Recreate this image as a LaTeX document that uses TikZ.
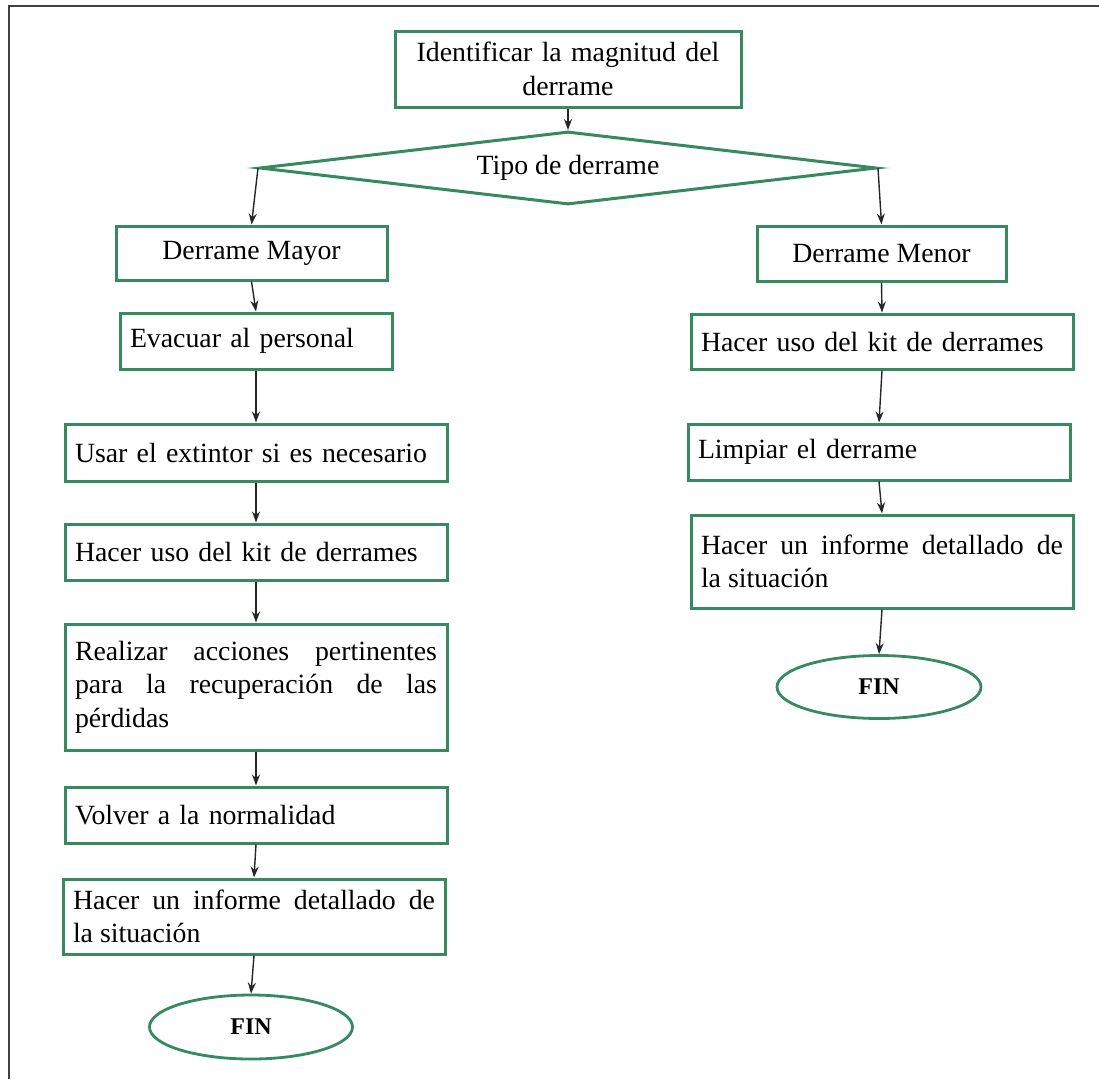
\documentclass[tikz,border=0pt]{standalone}
\usepackage{fontspec}
\setmainfont{Liberation Serif}
\usetikzlibrary{shapes.geometric,arrows.meta}
\definecolor{verde}{RGB}{55,138,95}
\hyphenpenalty=10000
\exhyphenpenalty=10000

\begin{document}
\begin{tikzpicture}[x=1pt, y=-1pt, every node/.style={font=\fontsize{27.8}{33.5}\selectfont},
	caja/.style={draw=verde, line width=3pt, inner xsep=10pt, inner ysep=0pt, align=left},
	fin/.style={draw=verde, line width=2.8pt, ellipse, inner sep=0pt, font=\fontsize{24}{28}\selectfont\bfseries},
	flecha/.style={-{Stealth[length=11pt,width=8pt]}, line width=1.4pt, black!85}]
	\useasboundingbox (0,0) rectangle (1099,1079);
	\draw[line width=2pt, black!75] (8.5,1079) -- (8.5,6) -- (1099,6);
	\node[caja, align=center, inner xsep=6pt, text width=334pt, minimum width=346pt, minimum height=76pt] (ident) at (568,69) {Identificar la magnitud del\\derrame};
	\node[draw=verde, line width=3pt, diamond, aspect=8, inner sep=0pt, minimum width=617pt, minimum height=73pt] (tipo) at (568,168) {Tipo de derrame};
	\node[caja, align=center, minimum width=271pt, minimum height=54pt] (mayor) at (251.5,253) {Derrame Mayor};
	\node[caja, align=center, minimum width=249pt, minimum height=55pt] (menor) at (881.5,253.5) {Derrame Menor};
	% rama izquierda
	\node[caja, text width=252pt, minimum height=56pt] (evac) at (256,341) {Evacuar al personal};
	\node[caja, text width=362pt, minimum height=57pt] (extin) at (256,452.5) {Usar el extintor si es necesario};
	\node[caja, text width=362pt, minimum height=56pt] (kitL) at (256,552) {Hacer uso del kit de derrames};
	\node[caja, align=justify, text width=362pt, minimum height=126pt] (recup) at (256,687) {\tolerance=10000 Realizar acciones pertinentes para la recuperación de las pérdidas};
	\node[caja, text width=362pt, minimum height=56pt] (normal) at (256,815) {Volver a la normalidad};
	\node[caja, align=justify, text width=362pt, minimum height=75pt] (infL) at (254,916.5) {Hacer un informe detallado de\linebreak la situación};
	\node[fin, minimum width=203pt, minimum height=64pt] (finL) at (251,1027) {FIN};
	% rama derecha
	\node[caja, text width=362pt, minimum height=55pt] (kitR) at (882,341.5) {Hacer uso del kit de derrames};
	\node[caja, text width=362pt, minimum height=56pt] (limp) at (879,452) {Limpiar el derrame};
	\node[caja, align=justify, text width=362pt, minimum height=93pt] (infR) at (882,561.5) {Hacer un informe detallado de\linebreak la situación\par\vspace*{18pt}};
	\node[fin, minimum width=204pt, minimum height=63pt] (finR) at (879,687) {FIN};
	\draw[flecha] (ident.south) -- (tipo.north);
	\draw[flecha] (tipo.west) -- (mayor.north);
	\draw[flecha] (tipo.east) -- (menor.north);
	\foreach \a/\b in {mayor/evac, evac/extin, extin/kitL, kitL/recup, recup/normal, normal/infL, infL/finL, menor/kitR, kitR/limp, limp/infR, infR/finR}
		\draw[flecha] (\a.south) -- (\b.north);
\end{tikzpicture}
\end{document}
